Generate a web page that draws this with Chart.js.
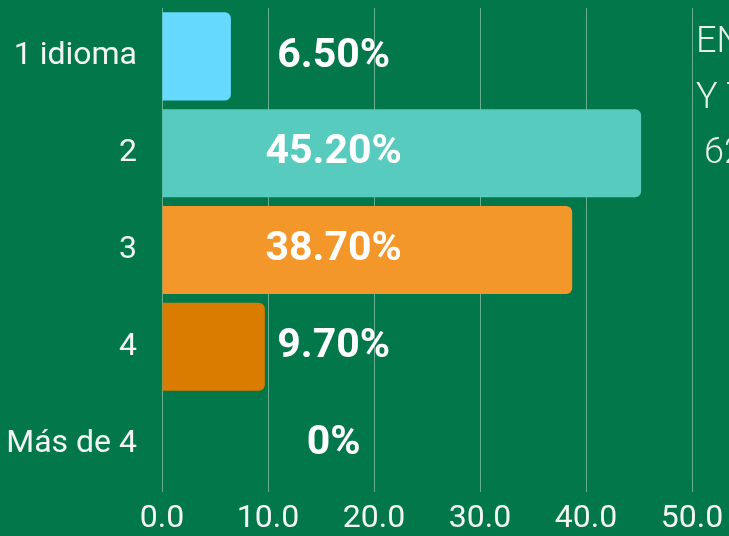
<!DOCTYPE html>
<html>
<head>
<meta charset="utf-8">
<script src="https://cdn.jsdelivr.net/npm/chart.js@4/dist/chart.umd.min.js"></script>
<style>
  html, body { margin: 0; padding: 0; background: #01774a; }
  #wrap { width: 729px; height: 536px; }
</style>
</head>
<body>
<div id="wrap"><canvas id="myChart" width="729" height="536"></canvas></div>
<script>
// data
const categories = ["1 idioma", "2", "3", "4", "Más de 4"];
const shares = [6.5, 45.2, 38.7, 9.7, 0];
const shareLabels = ["6.50%", "45.20%", "38.70%", "9.70%", "0%"];
const barColors = ["#66d9ff", "#57cbbe", "#f4972a", "#d97c00", "#d97c00"];
const xTicks = [0, 10, 20, 30, 40, 50];
// cut-off text from the neighbouring panel
const sideText = ["EN", "Y T", "62"];

const textColor = "#f2f5f3";

// value labels, all centred in one column
const valueLabels = {
  id: "valueLabels",
  afterDatasetsDraw(chart) {
    const ctx = chart.ctx;
    const xs = chart.scales.x;
    const meta = chart.getDatasetMeta(0);
    ctx.save();
    ctx.fillStyle = "#ffffff";
    ctx.font = "bold 41px Roboto";
    ctx.textAlign = "center";
    ctx.textBaseline = "middle";
    meta.data.forEach((bar, i) => {
      ctx.fillText(shareLabels[i], xs.getPixelForValue(16.2), bar.y);
    });
    ctx.restore();
  }
};

const sideNote = {
  id: "sideNote",
  afterDraw(chart) {
    const ctx = chart.ctx;
    ctx.save();
    ctx.fillStyle = "#e6efe9";
    ctx.font = "300 36px Roboto";
    ctx.textAlign = "left";
    ctx.textBaseline = "alphabetic";
    ctx.fillText(sideText[0], 696, 52);
    ctx.fillText(sideText[1], 696, 108);
    ctx.fillText(sideText[2], 704, 163);
    ctx.restore();
  }
};

let ctx = document.getElementById("myChart").getContext("2d");
/* eslint-disable no-unused-vars */
let myBarChart = new Chart(ctx, {
  type: "bar",
  data: {
    labels: categories,
    datasets: [
      {
        data: shares,
        backgroundColor: barColors,
        borderWidth: 0,
        borderRadius: { topLeft: 0, bottomLeft: 0, topRight: 6, bottomRight: 6 },
        borderSkipped: false,
        barPercentage: 0.91,
        categoryPercentage: 1.0,
      },
    ],
  },
  options: {
    indexAxis: "y",
    responsive: false,
    animation: false,
    layout: { padding: { top: 8, right: 37, left: 0, bottom: 0 } },
    plugins: {
      legend: { display: false },
      tooltip: { enabled: false },
    },
    scales: {
      x: {
        min: 0,
        max: 50,
        afterBuildTicks(scale) {
          scale.ticks = xTicks.map((v) => ({ value: v }));
        },
        afterFit(scale) {
          scale.height = 44;
          scale.paddingLeft = 0;
          scale.paddingRight = 0;
        },
        ticks: {
          color: textColor,
          font: { family: "Roboto", size: 32, weight: "normal" },
          padding: 8,
          maxRotation: 0,
          callback: (v) => Number(v).toFixed(1),
        },
        grid: { color: "rgba(255,255,255,0.4)", lineWidth: 1, drawTicks: false },
        border: { display: false },
      },
      y: {
        afterFit(scale) {
          scale.width = 162;
          scale.paddingTop = 0;
          scale.paddingBottom = 0;
        },
        ticks: {
          color: textColor,
          font: { family: "Roboto", size: 32, weight: "normal" },
          padding: 25,
        },
        grid: { display: false, drawTicks: false },
        border: { display: false },
      },
    },
  },
  plugins: [valueLabels, sideNote],
});
</script>
</body>
</html>
